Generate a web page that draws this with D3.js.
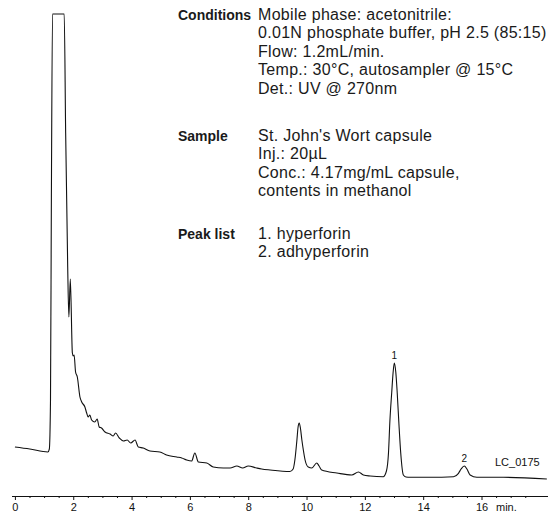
<!DOCTYPE html>
<html>
<head>
<meta charset="utf-8">
<script src="https://cdn.jsdelivr.net/npm/d3@7"></script>
<style>
  body { margin: 0; background: #fff; }
  svg { display: block; }
  .info { font-family: "Liberation Sans", Arial, sans-serif; font-size: 16px; letter-spacing: 0.3px; fill: #1a1a1a; }
  .info .head { font-weight: bold; font-size: 14px; letter-spacing: 0; }
  .axis text { font-family: "Liberation Sans", Arial, sans-serif; font-size: 11px; fill: #111; }
  .axis path, .axis line { stroke: #111; }
</style>
</head>
<body>
<svg width="550" height="512"></svg>
<script>
// retention time (min) and detector signal (arbitrary units)
const times = [
  0, 0.51, 1.13, 1.18, 1.22, 1.25, 1.29, 1.69, 1.74, 1.81, 1.85, 1.90, 1.97, 2.00, 2.03,
  2.08, 2.14, 2.23, 2.29, 2.40, 2.46, 2.51, 2.57, 2.63, 2.74, 2.82, 2.89, 2.97, 3.09,
  3.26, 3.37, 3.45, 3.58, 3.72, 3.85, 3.97, 4.12, 4.23, 4.40, 4.63, 4.97, 5.20, 5.55,
  5.72, 5.89, 6.06, 6.17, 6.29, 6.58, 6.80, 7.15, 7.38, 7.61, 7.81, 8.00, 8.29, 8.46,
  8.75, 9.43, 9.54, 9.60, 9.67, 9.71, 9.75, 9.79, 9.84, 9.89, 9.95, 10.06, 10.18, 10.35,
  10.43, 10.52, 11.04, 11.55, 11.78, 11.95, 12.18, 12.63, 12.74, 12.81, 12.86, 12.92,
  12.97, 13.01, 13.06, 13.11, 13.17, 13.23, 13.32, 13.41, 13.55, 14.24, 15.04, 15.21,
  15.30, 15.41, 15.50, 15.61, 15.84, 16.75, 18.24
];
const signal = [
  33, 31, 28, 31, 80, 280, 466, 466, 347, 213, 163, 201, 127, 124, 125,
  108, 103, 83, 78, 73, 67, 63, 65, 60, 58, 61, 53, 52, 48,
  46, 44, 47, 42, 39, 40, 37, 40, 33, 32, 29, 28, 25, 23,
  22, 20, 19, 27, 18, 17, 13, 12, 12, 14, 12, 14, 12, 11,
  10, 8.5, 11, 20, 40, 53, 57, 52, 40, 30, 20, 13, 12, 17,
  14, 10, 7, 5, 8, 5, 4, 3.3, 9, 27, 60, 87,
  108, 117, 108, 87, 55, 27, 5, 3, 2.7, 2.7, 3.3, 6.7,
  11, 14, 11, 5, 2.7, 2.7, 1
];

const majorTicks = [0, 2, 4, 6, 8, 10, 12, 14, 16];
const minorTicks = d3.range(0, 18.5, 0.5).filter((t) => t % 2 !== 0);

const peakNames = ["1", "2"];
const peakTimes = [13.01, 15.41];
const peakHeights = [117, 14];

const conditionsLines = [
  "Mobile phase: acetonitrile:",
  "0.01N phosphate buffer, pH 2.5 (85:15)",
  "Flow: 1.2mL/min.",
  "Temp.: 30\u00b0C, autosampler @ 15\u00b0C",
  "Det.: UV @ 270nm"
];
const sampleLines = [
  "St. John's Wort capsule",
  "Inj.: 20\u00b5L",
  "Conc.: 4.17mg/mL capsule,",
  "contents in methanol"
];
const peakListLines = ["1. hyperforin", "2. adhyperforin"];

const data = times.map((t, i) => ({ t: t, v: signal[i] }));

const svg = d3.select("svg");

const x = d3.scaleLinear().domain([-0.1, 18.28]).range([12, 548]);
const y = d3.scaleLinear().domain([0, 470]).range([480, 10]);

// axis
const axisY = 496;
svg.append("g")
  .attr("class", "axis")
  .attr("transform", `translate(0,${axisY})`)
  .call(d3.axisBottom(x).tickValues(majorTicks).tickSize(4).tickSizeOuter(0).tickPadding(3))
  .call((g) => g.select(".domain").attr("d", `M${x.range()[0]},0.5H${x.range()[1]}`));

svg.append("g")
  .attr("class", "axis")
  .attr("transform", `translate(0,${axisY})`)
  .call(d3.axisBottom(x).tickValues(minorTicks).tickSize(2).tickFormat(""))
  .call((g) => g.select(".domain").remove());

svg.append("text")
  .attr("x", 496)
  .attr("y", 511)
  .style("font-family", "'Liberation Sans', Arial, sans-serif")
  .style("font-size", "11px")
  .attr("fill", "#111")
  .text("min.");

// trace
const line = d3.line()
  .x((d) => x(d.t))
  .y((d) => y(d.v))
  .curve(d3.curveMonotoneX);

svg.append("path")
  .datum(data)
  .attr("fill", "none")
  .attr("stroke", "#111")
  .attr("stroke-width", 1.1)
  .attr("stroke-linejoin", "round")
  .attr("d", line);

// peak numbers
svg.selectAll(".peak-label")
  .data(peakNames)
  .join("text")
  .attr("class", "peak-label")
  .attr("x", (d, i) => x(peakTimes[i]))
  .attr("y", (d, i) => y(peakHeights[i]) - 4)
  .attr("text-anchor", "middle")
  .style("font-family", "'Liberation Sans', Arial, sans-serif")
  .style("font-size", "10px")
  .attr("fill", "#111")
  .text((d) => d);

svg.append("text")
  .attr("x", 495)
  .attr("y", 466)
  .style("font-family", "'Liberation Sans', Arial, sans-serif")
  .style("font-size", "11px")
  .attr("fill", "#111")
  .text("LC_0175");

// conditions block
const info = svg.append("g").attr("class", "info");
const lineGap = 18.6;
const blocks = [
  { head: "Conditions", lines: conditionsLines, y0: 19.5 },
  { head: "Sample", lines: sampleLines, y0: 140.5 },
  { head: "Peak list", lines: peakListLines, y0: 238.5 }
];

blocks.forEach((b) => {
  info.append("text")
    .attr("class", "head")
    .attr("x", 178)
    .attr("y", b.y0)
    .text(b.head);
  b.lines.forEach((s, i) => {
    info.append("text")
      .attr("x", 258)
      .attr("y", b.y0 + i * lineGap)
      .text(s);
  });
});
</script>
</body>
</html>
